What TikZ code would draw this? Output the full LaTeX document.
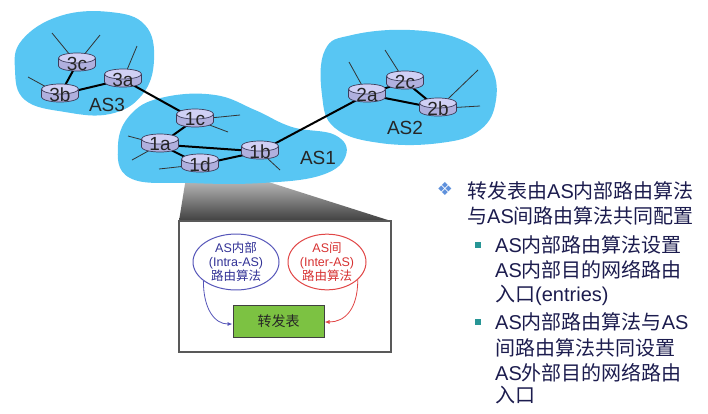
\documentclass[tikz,border=0pt]{standalone}
\usepackage{fontspec}
\setmainfont{Liberation Sans}
\newfontfamily\zhfont{Noto Sans CJK SC}
\newfontfamily\symfont{DejaVu Sans}
\newcommand\zh[1]{{\zhfont #1}}
\usetikzlibrary{shapes.geometric,arrows.meta}
\definecolor{blob}{RGB}{88,198,243}
\definecolor{rbody}{RGB}{176,176,222}
\definecolor{rtop}{RGB}{208,208,245}
\definecolor{rline}{RGB}{60,60,90}
\definecolor{navy}{RGB}{28,28,78}
\definecolor{eblue}{RGB}{85,85,185}
\definecolor{tblue}{RGB}{50,50,150}
\definecolor{ered}{RGB}{225,70,70}
\definecolor{tred}{RGB}{215,50,50}
\definecolor{fgreen}{RGB}{124,194,66}
\definecolor{sqteal}{RGB}{40,150,150}
\definecolor{dblue}{RGB}{95,145,220}
\pgfdeclarelayer{blobs}
\pgfdeclarelayer{links}
\pgfsetlayers{blobs,links,main}
\tikzset{
  rshape/.pic={
    \filldraw[draw=rline, line width=0.7pt, fill=rbody] (0,4) ellipse [x radius=18.5pt, y radius=5pt];
    \fill[rbody] (-18.5,-4) rectangle (18.5,4);
    \draw[rline, line width=0.7pt] (-18.5,-4) -- (-18.5,4) (18.5,-4) -- (18.5,4);
    \filldraw[draw=rline, line width=0.7pt, fill=rtop] (0,-4) ellipse [x radius=18.5pt, y radius=5pt];
  },
  rlabel/.style={inner sep=0pt, text=black!85, font=\fontsize{19}{19}\selectfont},
  link/.style={line width=2pt, black},
  stub/.style={line width=0.8pt, black!80},
  aslabel/.style={inner sep=0pt, font=\fontsize{19}{19}\selectfont, text=black!85},
  rtext/.style={anchor=base west, inner sep=0pt, text=navy, font=\fontsize{20}{24}\selectfont},
  algo/.style={ellipse, line width=1pt, inner sep=0pt, align=center, font=\fontsize{12.5}{14}\selectfont, minimum height=48pt},
}
\newcommand\rtr[3]{\pic at (#2) {rshape}; \node[rlabel, yshift=-1.5pt] (#1) at (#2) {#3};}
\begin{document}
\begin{tikzpicture}[x=1pt,y=-1pt]
\useasboundingbox (0,0) rectangle (708,413);
% routers
\rtr{r3c}{77,62}{3c}
\rtr{r3b}{60,93}{3b}
\rtr{r3a}{123,78}{3a}
\rtr{r1c}{195,118}{1c}
\rtr{r1a}{160,143}{1a}
\rtr{r1d}{200,163}{1d}
\rtr{r1b}{260,150}{1b}
\rtr{r2a}{367,93}{2a}
\rtr{r2c}{405,80}{2c}
\rtr{r2b}{438,107}{2b}
% stub ends
\coordinate (s3c1) at (52,33);
\coordinate (s3c2) at (100,35);
\coordinate (s3b) at (28,77);
\coordinate (s3a) at (137,46);
\coordinate (s1c1) at (240,115);
\coordinate (s1c2) at (228,132);
\coordinate (s1a1) at (128,136);
\coordinate (s1a2) at (132,160);
\coordinate (s1d) at (159,169);
\coordinate (s1b) at (280,170);
\coordinate (s2a) at (349,62);
\coordinate (s2c) at (385,50);
\coordinate (s2b1) at (478,70);
\coordinate (s2b2) at (480,106);
% AS labels
\node[aslabel] (as3) at (107,105) {AS3};
\node[aslabel] (as1) at (318,158) {AS1};
\node[aslabel] (as2) at (405,128) {AS2};
\begin{pgfonlayer}{links}
  \draw[link] (r3b.center) -- (r3c.center);
  \draw[link] (r3b.center) -- (r3a.center);
  \draw[link] (r3a.center) -- (r1c.center);
  \draw[link] (r1c.center) -- (r1a.center);
  \draw[link] (r1a.center) -- (r1b.center);
  \draw[link] (r1a.center) -- (r1d.center);
  \draw[link] (r1d.center) -- (r1b.center);
  \draw[link] (r1b.center) -- (r2a.center);
  \draw[link] (r2a.center) -- (r2c.center);
  \draw[link] (r2a.center) -- (r2b.center);
  \draw[link] (r2c.center) -- (r2b.center);
  \draw[stub] (r3c.center) -- (s3c1);
  \draw[stub] (r3c.center) -- (s3c2);
  \draw[stub] (r3b.center) -- (s3b);
  \draw[stub] (r3a.center) -- (s3a);
  \draw[stub] (r1c.center) -- (s1c1);
  \draw[stub] (r1c.center) -- (s1c2);
  \draw[stub] (r1a.center) -- (s1a1);
  \draw[stub] (r1a.center) -- (s1a2);
  \draw[stub] (r1d.center) -- (s1d);
  \draw[stub] (r1b.center) -- (s1b);
  \draw[stub] (r2a.center) -- (s2a);
  \draw[stub] (r2c.center) -- (s2c);
  \draw[stub] (r2b.center) -- (s2b1);
  \draw[stub] (r2b.center) -- (s2b2);
\end{pgfonlayer}
\begin{pgfonlayer}{blobs}
  \shade[top color=gray!20, bottom color=black!75] (188,165) -- (215,165) -- (391,221) -- (179,221) -- cycle;
  \fill[blob] plot[smooth cycle, tension=0.7] coordinates {(22,40) (60,16) (110,12) (145,25) (154,60) (142,95) (110,114) (65,112) (25,100) (15,70)};
  \fill[blob] plot[smooth cycle, tension=0.7] coordinates {(118,145) (132,113) (165,97) (215,95) (255,110) (292,127) (335,135) (346,155) (322,175) (262,183) (190,183) (130,178)};
  \fill[blob] plot[smooth cycle, tension=0.7] coordinates {(325,50) (352,35) (410,30) (462,40) (490,65) (496,100) (480,130) (440,143) (380,143) (335,128) (322,95)};
\end{pgfonlayer}
% zoom box
\draw[fill=white, draw=black!65, line width=1.5pt] (179,221) rectangle (391,352);
\node[algo, draw=eblue, text=tblue, minimum width=86pt] (intra) at (236,262) {AS\zh{内部}\\(Intra-AS)\\\zh{路由算法}};
\node[algo, draw=ered, text=tred, minimum width=78pt] (inter) at (327,262) {AS\zh{间}\\(Inter-AS)\\\zh{路由算法}};
\node[draw=black!75, line width=1pt, fill=fgreen, minimum width=91pt, minimum height=32pt, font=\zhfont\fontsize{14}{14}\selectfont, text=black!85] (fwd) at (278.5,321) {转发表};
\draw[eblue, line width=0.8pt, -{Latex[length=5pt,width=4pt]}] (intra.210) .. controls +(0,28) and +(-18,0) .. ([yshift=-3pt]fwd.west);
\draw[ered, line width=0.8pt, -{Latex[length=5pt,width=4pt]}] (inter.330) .. controls +(0,30) and +(20,0) .. ([yshift=-1pt]fwd.east);
% right text
\node[font=\symfont\fontsize{18}{18}\selectfont, text=dblue, inner sep=0pt] (b0) at (445,189) {❖};
\node[rtext] (t1) at (467,198) {\zh{转发表由}AS\zh{内部路由算法}};
\node[rtext] (t2) at (467,223) {\zh{与}AS\zh{间路由算法共同配置}};
\node[fill=sqteal, minimum size=6pt, inner sep=0pt] (q1) at (478,245) {};
\node[rtext] (t3) at (495,252) {AS\zh{内部路由算法设置}};
\node[rtext] (t4) at (495,277) {AS\zh{内部目的网络路由}};
\node[rtext] (t5) at (495,301) {\zh{入口}(entries)};
\node[fill=sqteal, minimum size=6pt, inner sep=0pt] (q2) at (478,322) {};
\node[rtext] (t6) at (495,329) {AS\zh{内部路由算法与}AS};
\node[rtext] (t7) at (495,355) {\zh{间路由算法共同设置}};
\node[rtext] (t8) at (495,380) {AS\zh{外部目的网络路由}};
\node[rtext] (t9) at (495,402) {\zh{入口}};
\end{tikzpicture}
\end{document}
